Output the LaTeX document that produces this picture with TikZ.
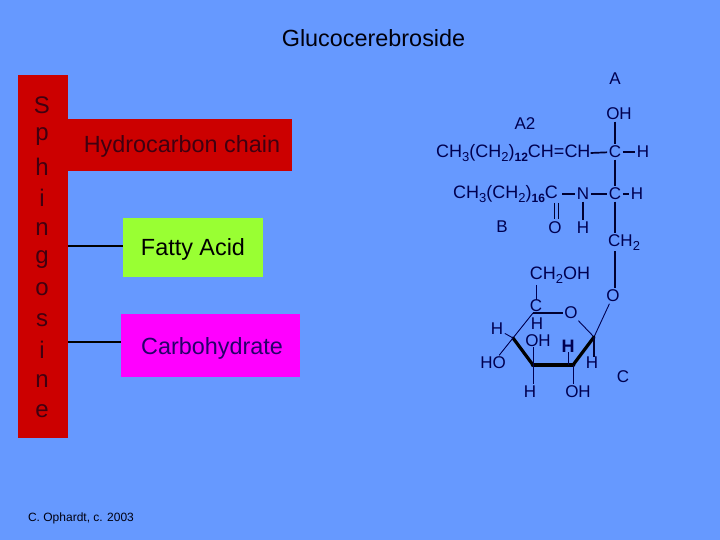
\documentclass[tikz,border=0pt]{standalone}
\usepackage{fontspec}
\setmainfont{Liberation Sans}
\newcommand{\fsz}[1]{\fontsize{#1}{#1}\selectfont}
\newcommand{\lowsub}[1]{\raisebox{-4pt}{\fsz{13}#1}}
\newcommand{\tinysub}[1]{\raisebox{-4pt}{\fsz{12}\textbf{#1}}}
\definecolor{bg}{HTML}{6699FF}
\definecolor{redbox}{HTML}{CC0000}
\definecolor{greenbox}{HTML}{99FF33}
\definecolor{pinkbox}{HTML}{FF00FF}
\definecolor{ink}{HTML}{000050}
\definecolor{darkred}{HTML}{400010}
\tikzset{
  atom/.style={text=ink,inner sep=1.5pt,font=\fsz{17}},
  longtext/.style={text=ink,inner sep=0,font=\fsz{18},anchor=west},
  bond/.style={draw=black!40!ink,line width=1.7pt},
  thinbond/.style={draw=ink,line width=0.9pt},
  wedge/.style={draw=black,line width=3.2pt,line cap=round},
  link/.style={draw=black,line width=1.6pt},
  letter/.style={text=darkred,font=\fsz{24},inner sep=0},
  boxlabel/.style={inner sep=0,font=\fsz{23.4}}
}
\begin{document}
\begin{tikzpicture}[x=1pt,y=-1pt]
\useasboundingbox (0,0) rectangle (720,540);
\fill[bg] (0,0) rectangle (720,540);
\node[inner sep=0,font=\fsz{23.4},text=black!85!ink] (title) at (373.5,38) {Glucocerebroside};
% boxes
\fill[redbox] (18,75) rectangle (68,438);
\fill[redbox] (68,119) rectangle (292,171);
\fill[greenbox] (123,218) rectangle (263,277);
\fill[pinkbox] (121,314) rectangle (300,377);
\coordinate (barA) at (68,246);
\coordinate (barB) at (68,342);
\coordinate (boxA) at (123,246);
\coordinate (boxB) at (121,342);
\draw[link] (barA) -- (boxA);
\draw[link] (barB) -- (boxB);
\node[boxlabel,text=darkred] (hc) at (182,146) {Hydrocarbon chain};
\node[boxlabel,text=black] (fa) at (193,249) {Fatty Acid};
\node[boxlabel,text=ink!85!pinkbox] (cb) at (212,348) {Carbohydrate};
\node[letter] (s1) at (42,105) {S};
\node[letter] (s2) at (42,137) {p};
\node[letter] (s3) at (42,167) {h};
\node[letter] (s4) at (42,198) {i};
\node[letter] (s5) at (42,229) {n};
\node[letter] (s6) at (42,260) {g};
\node[letter] (s7) at (42,289) {o};
\node[letter] (s8) at (42,320) {s};
\node[letter] (s9) at (42,350) {i};
\node[letter] (s10) at (42,381) {n};
\node[letter] (s11) at (42,411) {e};
\node[inner sep=0,font=\fsz{12},text=black!80!ink] (credit) at (81,518) {C. Ophardt, c. 2003};
% upper chain
\node[atom] (labA) at (615,79) {A};
\node[atom] (oh1) at (619,114) {OH};
\node[atom] (labA2) at (525,124) {A2};
\node[longtext] (chainA) at (436,153) {CH\lowsub{3}(CH\lowsub{2})\tinysub{12}CH=CH};
\node[atom] (c1) at (615,152) {C};
\node[atom] (h1) at (643,152) {H};
\node[longtext] (chainB) at (453,194) {CH\lowsub{3}(CH\lowsub{2})\tinysub{16}C};
\coordinate (cb1) at (562,194);
\node[atom] (n) at (583,194) {N};
\node[atom] (c2) at (615,194) {C};
\node[atom] (h2) at (637,194) {H};
\node[atom] (o1) at (555,228) {O};
\node[atom] (hn) at (583,228) {H};
\node[atom] (labB) at (502,227) {B};
\node[atom,anchor=west,inner sep=0] (ch2) at (608,243) {CH\lowsub{2}};
\coordinate (ch2top) at (615,233);
\coordinate (ch2bot) at (615,251);
\draw[bond] (oh1.south -| c1) -- (c1);
\draw[bond] (chainA.east) -- (c1);
\draw[bond] (c1) -- (h1);
\draw[bond] (c1) -- (c2);
\draw[bond] (cb1) -- (n);
\draw[bond] (n) -- (c2);
\draw[bond] (c2) -- (h2);
\draw[bond] (n) -- (hn);
\draw[bond] (c2) -- (ch2top);
\coordinate (dbA1) at (554.5,203);
\coordinate (dbA2) at (554.5,219);
\coordinate (dbB1) at (558.5,203);
\coordinate (dbB2) at (558.5,219);
\draw[bond] (dbA1) -- (dbA2);
\draw[bond] (dbB1) -- (dbB2);
% sugar
\node[atom] (o2) at (613,296) {O};
\node[atom,font=\fsz{18}] (ch2oh) at (560,275) {CH\lowsub{2}OH};
\node[atom,inner sep=0] (c6) at (536,306) {C};
\node[atom] (oring) at (571,313) {O};
\coordinate (r5) at (533,313);
\coordinate (r1) at (594,337);
\coordinate (r2) at (573,365);
\coordinate (r3) at (533,365);
\coordinate (r4) at (513,338);
\node[atom,inner sep=0] (h5) at (537,324) {H};
\node[atom,inner sep=0] (oh3) at (538,341) {OH};
\node[atom,inner sep=0,font=\bfseries\fsz{18}] (h3) at (568,346) {H};
\node[atom,inner sep=0] (h1r) at (592,363) {H};
\node[atom] (h4) at (497,329) {H};
\node[atom] (ho) at (493,363) {HO};
\node[atom] (h6) at (530,392) {H};
\node[atom] (oh4) at (578,392) {OH};
\node[atom] (labC) at (623,377) {C};
\draw[bond] (ch2bot) -- (ch2bot |- o2.north);
\draw[thinbond] (o2) -- (r1);
\draw[thinbond] (oring) -- (r1);
\draw[bond] (r5) -- (oring);
\draw[thinbond] (r5) -- (r4);
\draw[wedge] (r1) -- (r2);
\draw[wedge,line width=4.5pt] (r2) -- (r3);
\draw[wedge] (r3) -- (r4);
\draw[thinbond] (ch2oh.south -| c6) -- (c6);
\draw[thinbond] (r4) -- (h4);
\draw[thinbond] (r4) -- (ho);
\draw[bond] (r1) -- (h1r.north -| r1);
\draw[thinbond] (r3) -- (r3 |- h6.north);
\draw[thinbond] (r2) -- (r2 |- oh4.north);
\draw[thinbond] (h3) -- (r2 -| h3);
\draw[thinbond] (oh3.south -| r3) -- (r3);
\end{tikzpicture}
\end{document}
